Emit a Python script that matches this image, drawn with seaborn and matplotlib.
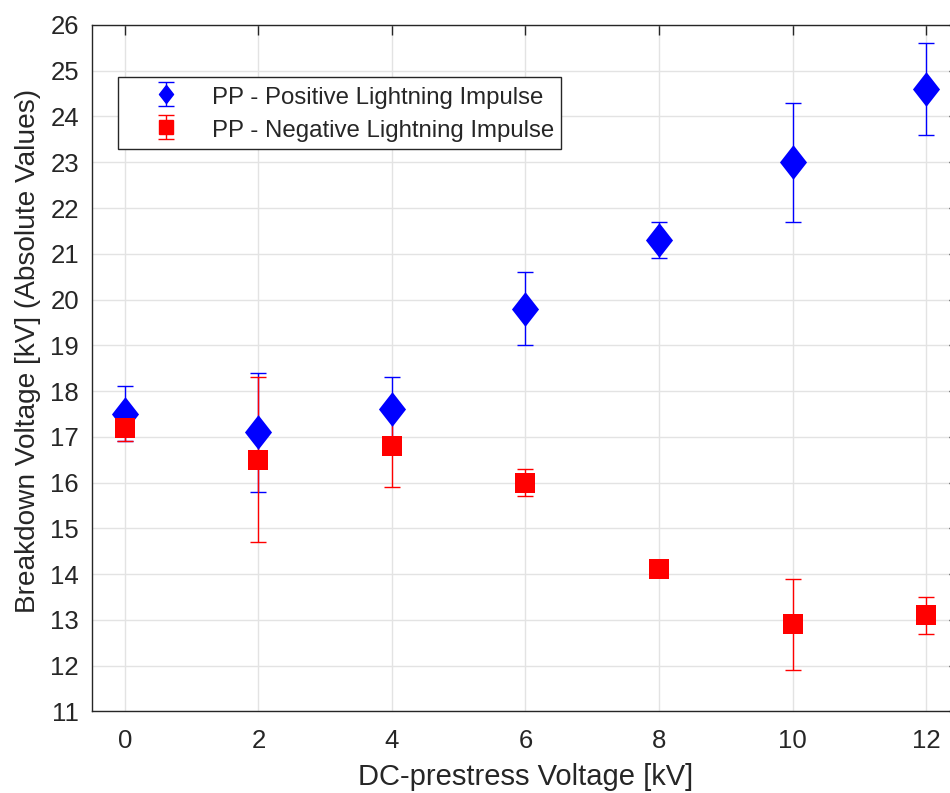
import numpy as np
import pandas as pd
import matplotlib
matplotlib.use("Agg")
import matplotlib.pyplot as plt
from matplotlib.path import Path
import seaborn as sns

# ---- data ----
dc_prestress = [0, 2, 4, 6, 8, 10, 12]
pos_mean = [17.5, 17.1, 17.6, 19.8, 21.3, 23.0, 24.6]
pos_err = [0.6, 1.3, 0.7, 0.8, 0.4, 1.3, 1.0]
neg_mean = [17.2, 16.5, 16.8, 16.0, 14.1, 12.9, 13.1]
neg_err = [0.3, 1.8, 0.9, 0.3, 0.0, 1.0, 0.4]
x_ticks = [0, 2, 4, 6, 8, 10, 12]
y_ticks = list(range(11, 27))
labels = ["PP - Positive Lightning Impulse", "PP - Negative Lightning Impulse"]

df = pd.DataFrame({
    "x": dc_prestress * 2,
    "y": pos_mean + neg_mean,
    "err": pos_err + neg_err,
    "series": [labels[0]] * 7 + [labels[1]] * 7,
})

sns.set_theme(style="whitegrid")
plt.rcParams["font.family"] = ["Liberation Sans", "DejaVu Sans"]

fig = plt.figure(figsize=(9.5, 7.93), dpi=100)
ax = fig.add_axes([0.0964, 0.1030, 0.9135, 0.8655])

diamond = Path([(0, 1), (0.78, 0), (0, -1), (-0.78, 0), (0, 1)],
               [Path.MOVETO, Path.LINETO, Path.LINETO, Path.LINETO, Path.CLOSEPOLY])

colors = {labels[0]: "#0000ff", labels[1]: "#ff0000"}
markers = {labels[0]: diamond, labels[1]: "s"}
sizes_pt = {labels[0]: 25, labels[1]: 15}

for lab in labels:
    sub = df[df.series == lab]
    ax.errorbar(sub.x, sub.y, yerr=sub.err, fmt="none", ecolor=colors[lab],
                elinewidth=1.0, capsize=6, capthick=1.0, zorder=2)
    sns.scatterplot(data=sub, x="x", y="y", marker=markers[lab], s=sizes_pt[lab] ** 2,
                    color=colors[lab], edgecolor=colors[lab], linewidth=0,
                    ax=ax, zorder=3, legend=False)

leg_handles = []
leg_ms = {labels[0]: 13, labels[1]: 10.5}
for lab in labels:
    eb = ax.errorbar([np.nan], [np.nan], yerr=[[0.5]], marker=markers[lab],
                     markersize=leg_ms[lab], color=colors[lab], ecolor=colors[lab],
                     linestyle="none", capsize=5.5, elinewidth=1.0)
    leg_handles.append(eb)

leg = ax.legend(leg_handles, labels, loc="upper left",
                bbox_to_anchor=(0.0300, 0.9237), fontsize=17.3, frameon=True,
                fancybox=False, edgecolor="#262626", framealpha=1,
                handlelength=3.4, handletextpad=0.22, borderpad=0.3,
                labelspacing=0.38, borderaxespad=0, handleheight=1.0)
leg.get_frame().set_linewidth(1.0)

ax.set_xlim(-0.5, 12.5)
ax.set_ylim(11, 26)
ax.set_xticks(x_ticks)
ax.set_yticks(y_ticks)
ax.set_xlabel("DC-prestress Voltage [kV]", fontsize=21, color="#262626", labelpad=7)
ax.set_ylabel("Breakdown Voltage [kV] (Absolute Values)", fontsize=20.2, color="#262626")
ax.yaxis.set_label_coords(-0.058, 0.525)
ax.tick_params(axis="both", labelsize=18.5, colors="#262626", direction="in", length=7,
               width=1.0, top=True, right=True)
ax.tick_params(axis="x", pad=13)
ax.tick_params(axis="y", pad=9)
ax.grid(True, color="#e3e3e3", linewidth=1.0)
for sp in ax.spines.values():
    sp.set_visible(True)
    sp.set_color("#262626")
    sp.set_linewidth(1.0)
ax.set_facecolor("white")
fig.patch.set_facecolor("white")

fig.savefig("out.png", dpi=100)
